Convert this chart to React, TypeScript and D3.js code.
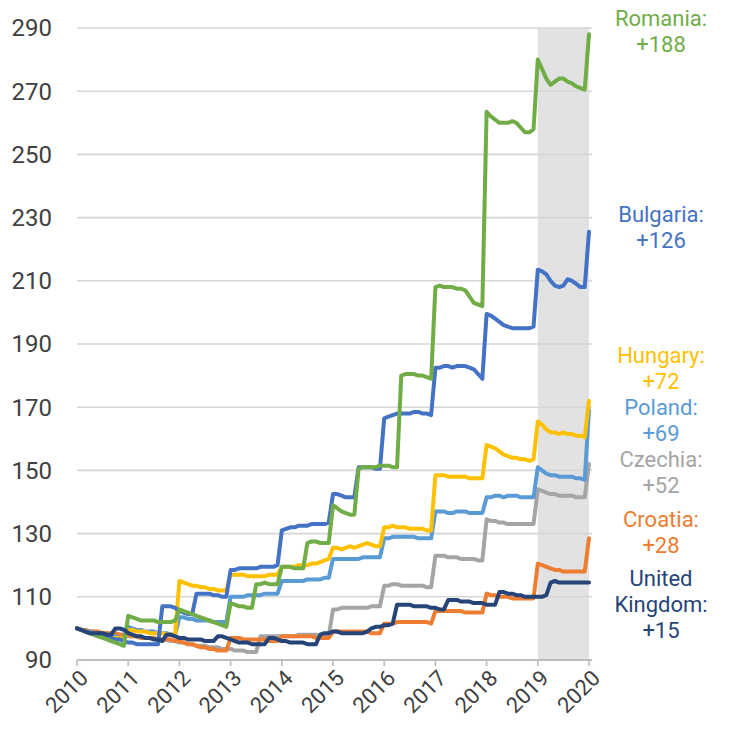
import React from "react";
import * as d3 from "d3";

// monthly index values, Jan 2010 = 100 ... Jan 2020
const romania = [
  100, 99.5, 99, 98.5, 98, 97.5, 97, 96.5, 96, 95.5, 95, 94.5,
  104, 103.5, 103, 102.5, 102.5, 102.5, 102.5, 102, 102, 102, 102, 102.5,
  106, 105.5, 105, 104.5, 104, 103.5, 103, 102.5, 102, 101.5, 101, 100.5,
  108, 107.5, 107, 107, 106.5, 106.5, 114, 114, 114.5, 114, 114, 114,
  119.5, 119.5, 119.5, 119, 119, 119, 127, 127.5, 127.5, 127, 127, 127,
  139, 138, 137, 136.5, 136, 136, 150.5, 151, 151, 151, 151, 151.5,
  151.5, 151.5, 151, 151, 180, 180.5, 180.5, 180.5, 180, 180, 179.5, 179,
  208, 208.5, 208, 208, 208, 207.5, 207.5, 207, 205, 203, 202.5, 202,
  263.5, 262, 261, 260, 260, 260, 260.5, 260, 258.5, 257, 257, 258,
  280, 277, 274, 272, 273, 274, 274, 273, 272.5, 271.5, 271, 270.5,
  288,
];
const bulgaria = [
  100, 99.5, 99, 98.5, 98, 97.5, 97.5, 97, 97, 96.5, 96.5, 96,
  95.5, 95.5, 95, 95, 95, 95, 95, 95, 107, 107, 107, 106.5,
  105.5, 105, 104.5, 104.5, 111, 111, 111, 111, 110.5, 110.5, 110, 110,
  118.5, 118.5, 119, 119, 119, 119, 119, 119.5, 119.5, 119.5, 119.5, 120,
  131, 131.5, 132, 132, 132.5, 132.5, 132.5, 133, 133, 133, 133, 133.5,
  142.5, 142.5, 142, 141.5, 141.5, 141.5, 151, 151, 151, 151, 150.5, 150.5,
  166.5, 167, 167.5, 168, 168, 168, 168, 168.5, 168.5, 168, 168, 167.5,
  182.5, 182.5, 183, 183, 182.5, 183, 183, 183, 182.5, 182, 180.5, 179,
  199.5, 199, 198, 197, 196, 195.5, 195, 195, 195, 195, 195, 195.5,
  213.5, 213, 212, 210, 208.5, 208, 208.5, 210.5, 210, 209, 208, 208,
  225.5,
];
const hungary = [
  100, 99.5, 99, 98.5, 98, 98, 97.5, 97.5, 97, 97, 97, 96.5,
  99.5, 99.5, 99, 99, 99, 98.5, 98.5, 98.5, 98.5, 98, 98, 98,
  115, 114.5, 114, 113.5, 113.5, 113, 113, 112.5, 112.5, 112, 112, 112,
  117, 117, 117, 117, 116.5, 116.5, 116.5, 116.5, 116.5, 117, 117, 117,
  119.5, 119.5, 119.5, 119.5, 120, 120, 120, 120.5, 120.5, 121, 121.5, 122,
  125.5, 125.5, 125, 125.5, 126, 125.5, 126, 126.5, 127, 126.5, 126, 126,
  132, 132, 132.5, 132, 132, 132, 131.5, 131.5, 131.5, 131.5, 131, 131,
  148.5, 148.5, 148.5, 148, 148, 148, 148, 148, 147.5, 147.5, 147.5, 147.5,
  158, 157.5, 157, 156, 155, 154.5, 154, 154, 153.5, 153.5, 153, 153.5,
  165.5, 164.5, 163, 162, 162, 161.5, 162, 161.5, 161.5, 161, 161, 160.5,
  172,
];
const poland = [
  100, 99.5, 99, 99, 98.5, 98.5, 98, 98, 97.5, 97.5, 97, 97,
  100.5, 100, 99.5, 99.5, 99, 99, 99, 98.5, 98.5, 98.5, 98, 98,
  103.5, 103.5, 103, 103, 102.5, 102.5, 102.5, 102.5, 102, 102, 102, 102,
  110, 110, 110, 110, 110.5, 110.5, 110.5, 110.5, 111, 111, 111, 111,
  115, 115, 115, 115, 115, 115, 115.5, 115.5, 115.5, 115.5, 116, 116,
  122, 122, 122, 122, 122, 122, 122, 122.5, 122.5, 122.5, 122.5, 122.5,
  128.5, 128.5, 129, 129, 129, 129, 129, 129, 128.5, 128.5, 128.5, 128.5,
  137, 137, 137, 136.5, 136.5, 137, 137, 137, 136.5, 136.5, 136.5, 136.5,
  141.5, 141.5, 142, 142, 141.5, 142, 142, 142, 141.5, 141.5, 141.5, 141.5,
  151, 150, 149, 148.5, 148.5, 148, 148, 148, 148, 147.5, 147.5, 147,
  169,
];
const czechia = [
  100, 99.5, 99.5, 99, 99, 98.5, 98.5, 98.5, 98, 98, 98, 98,
  97.5, 97.5, 97.5, 97, 97, 97, 96.5, 96.5, 96.5, 96.5, 96, 96,
  95.5, 95.5, 95, 95, 94.5, 94.5, 94.5, 94, 94, 94, 93.5, 93.5,
  93.5, 93, 93, 93, 92.5, 92.5, 92.5, 97.5, 97.5, 97.5, 97.5, 97.5,
  97.5, 97.5, 97.5, 97.5, 98, 98, 98, 98, 98, 97.5, 97.5, 97.5,
  106, 106, 106.5, 106.5, 106.5, 106.5, 106.5, 106.5, 106.5, 107, 107, 107,
  113.5, 113.5, 114, 114, 113.5, 113.5, 113.5, 113.5, 113.5, 113.5, 113, 113,
  123, 123, 123, 122.5, 122.5, 122.5, 122, 122, 122, 122, 121.5, 121.5,
  134.5, 134, 134, 133.5, 133.5, 133, 133, 133, 133, 133, 133, 133,
  144, 143.5, 143, 142.5, 142.5, 142, 142, 142, 142, 141.5, 141.5, 141.5,
  152,
];
const croatia = [
  100, 99.5, 99.5, 99, 99, 99, 98.5, 98.5, 98.5, 98.5, 98, 98,
  98, 97.5, 97.5, 97, 97, 97, 97, 96.5, 96.5, 96.5, 96.5, 96,
  96, 95.5, 95, 95, 94.5, 94, 94, 93.5, 93.5, 93, 93, 93,
  97, 97, 97, 96.5, 96.5, 96.5, 96.5, 96.5, 96.5, 96, 96, 96,
  97.5, 97.5, 97.5, 97.5, 97.5, 97.5, 97.5, 97.5, 97, 97, 97, 97,
  99, 99, 99, 99, 99, 99, 99, 99, 99, 98.5, 98.5, 98.5,
  101.5, 101.5, 101.5, 102, 102, 102, 102, 102, 102, 102, 102, 101.5,
  105.5, 105.5, 105.5, 105.5, 105.5, 105.5, 105.5, 105, 105, 105, 105, 105,
  111, 110.5, 110.5, 110, 110, 110, 109.5, 109.5, 109.5, 109.5, 109.5, 109.5,
  120.5, 120, 119.5, 119, 118.5, 118.5, 118, 118, 118, 118, 118, 118,
  128.5,
];
const uk = [
  100, 99.5, 99, 98.5, 98.5, 98.5, 98.5, 98, 98, 100, 100, 99.5,
  98.5, 98, 97.5, 97.5, 97, 97, 96.5, 96.5, 96, 98, 98, 97.5,
  97, 97, 96.5, 96.5, 96.5, 96.5, 96, 96, 96, 97.5, 97.5, 97,
  96.5, 96, 95.5, 95.5, 95.5, 95, 95, 95, 95, 97, 97, 96.5,
  96, 96, 95.5, 95.5, 95.5, 95.5, 95, 95, 95, 98, 98.5, 98.5,
  99, 99, 98.5, 98.5, 98.5, 98.5, 98.5, 98.5, 99, 100, 100.5, 100.5,
  101, 101, 101.5, 107.5, 107.5, 107.5, 107.5, 107, 107, 107, 107, 106.5,
  106.5, 106, 106, 109, 109, 109, 108.5, 108.5, 108.5, 108, 108, 108,
  107.5, 107.5, 107.5, 111.5, 111.5, 111, 111, 110.5, 110.5, 110, 110, 110,
  110, 110, 110.5, 114.5, 115, 114.5, 114.5, 114.5, 114.5, 114.5, 114.5, 114.5,
  114.5,
];

const yearTicks = [2010, 2011, 2012, 2013, 2014, 2015, 2016, 2017, 2018, 2019, 2020];
const valueTicks = [90, 110, 130, 150, 170, 190, 210, 230, 250, 270, 290];
const shadedYears = [2019, 2020];

// drawing order: last one on top
const series = [
  { name: "Czechia", values: czechia, color: "#A5A5A5" },
  { name: "Croatia", values: croatia, color: "#ED7D31" },
  { name: "Poland", values: poland, color: "#5B9BD5" },
  { name: "Hungary", values: hungary, color: "#FFC000" },
  { name: "Bulgaria", values: bulgaria, color: "#4472C4" },
  { name: "Romania", values: romania, color: "#70AD47" },
  { name: "United Kingdom", values: uk, color: "#264478" },
];

const labelLines = [
  { lines: ["Romania:", "+188"], color: "#70AD47", top: 18 },
  { lines: ["Bulgaria:", "+126"], color: "#4472C4", top: 214 },
  { lines: ["Hungary:", "+72"], color: "#FFC000", top: 355 },
  { lines: ["Poland:", "+69"], color: "#5B9BD5", top: 407 },
  { lines: ["Czechia:", "+52"], color: "#A5A5A5", top: 459 },
  { lines: ["Croatia:", "+28"], color: "#ED7D31", top: 519 },
  { lines: ["United", "Kingdom:", "+15"], color: "#264478", top: 578 },
];

const W = 731;
const H = 742;
const font = "Roboto, 'Liberation Sans', sans-serif";

export default function App() {
  const x = d3.scaleLinear().domain([2010, 2020]).range([77, 589]);
  const y = d3.scaleLinear().domain([90, 290]).range([660, 28]);

  const line = d3
    .line<number>()
    .x((_, i) => x(2010 + i / 12))
    .y((d) => y(d));

  return (
    <svg
      width={W}
      height={H}
      style={{ position: "absolute", left: 0, top: 0, background: "#fff" }}
      fontFamily={font}
    >
      <rect
        x={x(shadedYears[0])}
        y={y(290)}
        width={x(shadedYears[1]) - x(shadedYears[0])}
        height={y(90) - y(290)}
        fill="#e2e2e2"
      />
      {valueTicks.slice(1).map((v) => (
        <line key={v} x1={x(2010)} x2={x(2020) + 3} y1={y(v)} y2={y(v)} stroke="#d6d6d6" strokeWidth={1.6} />
      ))}
      <line x1={x(2010)} x2={x(2020) + 3} y1={y(90)} y2={y(90)} stroke="#bdbdbd" strokeWidth={2} />
      {yearTicks.map((t) => (
        <line key={t} x1={x(t)} x2={x(t)} y1={y(90)} y2={y(90) + 6} stroke="#bdbdbd" strokeWidth={1.6} />
      ))}
      {valueTicks.map((v) => (
        <text key={v} x={52} y={y(v)} dy="0.35em" textAnchor="end" fontSize={24} fill="#404040">
          {v}
        </text>
      ))}
      {yearTicks.map((t) => (
        <text
          key={t}
          transform={`translate(${x(t) + 7},${y(90) + 14}) rotate(-45)`}
          textAnchor="end"
          dy="0.35em"
          fontSize={22}
          fill="#404040"
        >
          {t}
        </text>
      ))}
      {series.map((s) => (
        <path
          key={s.name}
          d={line(s.values) || ""}
          fill="none"
          stroke={s.color}
          strokeWidth={4}
          strokeLinejoin="round"
          strokeLinecap="round"
        />
      ))}
      {labelLines.map((l) =>
        l.lines.map((txt, i) => (
          <text
            key={l.color + txt}
            x={661}
            y={l.top + i * 26}
            dy="0.35em"
            textAnchor="middle"
            fontSize={22}
            fill={l.color}
          >
            {txt}
          </text>
        ))
      )}
    </svg>
  );
}
